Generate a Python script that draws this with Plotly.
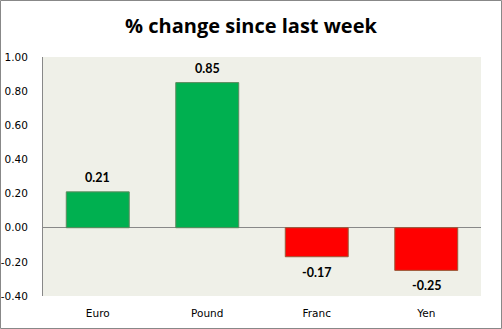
import plotly.graph_objects as go

categories = ["Euro", "Pound", "Franc", "Yen"]
values = [0.21, 0.85, -0.17, -0.25]
labels = ["0.21", "0.85", "-0.17", "-0.25"]
tick_vals = [-0.4, -0.2, 0.0, 0.2, 0.4, 0.6, 0.8, 1.0]
tick_text = ["-0.40", "-0.20", "0.00", "0.20", "0.40", "0.60", "0.80", "1.00"]

colors = ["#00B050" if v >= 0 else "#FF0000" for v in values]
line_colors = ["#5E8A5E" if v >= 0 else "#9A5A3A" for v in values]

fig = go.Figure(go.Bar(
    x=categories, y=values,
    marker=dict(color=colors, line=dict(color=line_colors, width=1)),
    width=0.575,
))

annotations = []
for c, v, t in zip(categories, values, labels):
    annotations.append(dict(
        x=c, y=v, xref="x", yref="y", text="<b>%s</b>" % t, showarrow=False,
        yanchor="bottom" if v >= 0 else "top",
        yshift=6 if v >= 0 else -7, borderpad=0,
        font=dict(family="Lato", size=12.5, color="#000000"),
    ))

L, R, T, B = 43, 21, 57, 33
W, H = 502, 329
pw, ph = W - L - R, H - T - B

fig.update_layout(
    width=W, height=H,
    margin=dict(l=L, r=R, t=T, b=B, autoexpand=False),
    paper_bgcolor="#FFFFFF", plot_bgcolor="#EFF0E8",
    showlegend=False,
    annotations=annotations,
    title=dict(text="<b>% change since last week</b>", x=0.5, xanchor="center",
               y=1 - 26 / H, yanchor="middle",
               font=dict(family="Open Sans", size=20, color="#000000")),
    xaxis=dict(showline=False, ticks="", showgrid=False, zeroline=False,
               range=[-0.5, 3.5], automargin=False,
               tickfont=dict(family="DejaVu Sans", size=10.5, color="#000000"),
               ticklabelstandoff=9),
    yaxis=dict(range=[-0.4, 1.0], tickvals=tick_vals, ticktext=tick_text,
               showgrid=False, showline=True, linecolor="#888888", linewidth=1,
               zeroline=True, zerolinecolor="#888888", zerolinewidth=1,
               ticks="", ticklabelstandoff=12, automargin=False,
               tickfont=dict(family="DejaVu Sans", size=10.5, color="#000000")),
    shapes=[dict(type="rect", xref="paper", yref="paper",
                 x0=(0.5 - L) / pw, x1=(W - 0.5 - L) / pw,
                 y0=(H - B - (H - 0.5)) / ph, y1=(H - B - 0.5) / ph,
                 line=dict(color="#888888", width=1), layer="above")],
)

fig.write_html("out.html")
